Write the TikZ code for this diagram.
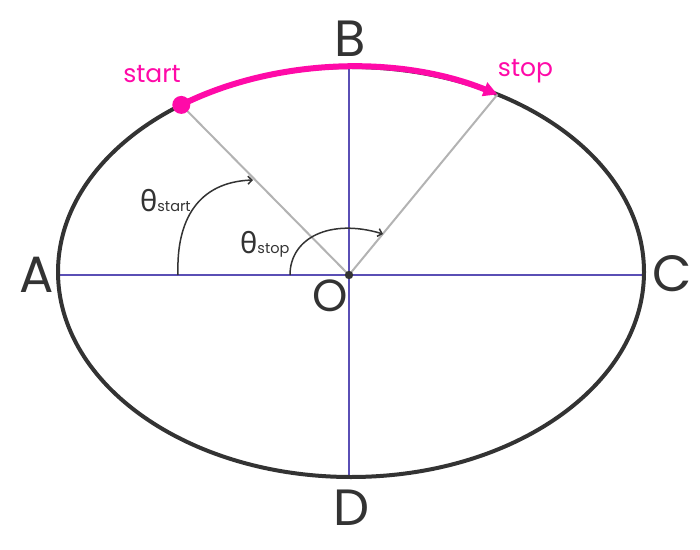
\documentclass[tikz,border=0pt]{standalone}
\usepackage{fontspec}
\setmainfont{Poppins}
\newfontfamily\grk{Noto Sans}
\usetikzlibrary{arrows.meta,calc}
\definecolor{dark}{HTML}{333333}
\definecolor{pinkc}{HTML}{FF0AA8}
\definecolor{axisc}{HTML}{5A4FB5}
\definecolor{grayc}{HTML}{B3B3B3}
\tikzset{
  ellipsestyle/.style={draw=dark,line width=4pt},
  axisline/.style={draw=axisc,line width=1.6pt},
  rayline/.style={draw=grayc,line width=2pt},
  pinkarc/.style={draw=pinkc,line width=6pt,-{Triangle[length=14pt,width=14pt]}},
  anglearc/.style={draw=dark,line width=1.5pt,-{Straight Barb[length=4pt,width=8pt]}},
  bigletter/.style={text=dark,font=\fontsize{51}{51}\selectfont,anchor=base,inner sep=0pt},
  pinklabel/.style={text=pinkc,font=\fontsize{25}{25}\selectfont,anchor=base,inner sep=0pt},
  thetalabel/.style={text=dark,anchor=base west,inner sep=0pt},
}
\newcommand{\thetasub}[1]{{\grk\fontsize{29}{29}\selectfont θ}{\fontsize{14.5}{14.5}\selectfont #1}}
\begin{document}
\begin{tikzpicture}[x=1pt,y=1pt]
\useasboundingbox (0,0) rectangle (700,549);
\coordinate (E) at (351,277);
\coordinate (O) at (349,274);
\coordinate (Ax) at (58,274);
\coordinate (Cx) at (644,274);
\coordinate (Bx) at (349,483);
\coordinate (Dx) at (349,72);
\coordinate (S) at ($(E)+(125.4:293 and 205)$);
\coordinate (T) at ($(E)+(60:293 and 205)$);
% axes
\draw[axisline] (Ax) -- (Cx);
\draw[axisline] (Bx) -- (Dx);
% ellipse
\draw[ellipsestyle] (E) ellipse [x radius=293, y radius=205];
% rays
\draw[rayline] (O) -- (S);
\draw[rayline] (O) -- (T);
% pink arc
\draw[pinkarc] (S) arc[start angle=125.4, end angle=60, x radius=293, y radius=205];
\fill[pinkc] (S) circle (9);
\fill[dark] (O) circle (4.2);
% angle arcs
\coordinate (a1s) at (178,274);
\coordinate (a1e) at (253,369);
\coordinate (a2s) at (290,274);
\coordinate (a2e) at (383,315);
\draw[anglearc] (a1s) .. controls (176,329) and (198,367) .. (a1e);
\draw[anglearc] (a2s) .. controls (290,311) and (330,331) .. (a2e);
% labels
\node[bigletter] (A) at (37,256) {A};
\node[bigletter] (B) at (350,492) {B};
\node[bigletter] (C) at (672,257) {C};
\node[bigletter] (D) at (352,24) {D};
\node[bigletter,font=\fontsize{45}{45}\selectfont] (Olab) at (330,237) {O};
\node[pinklabel] (startlab) at (152,466) {start};
\node[pinklabel] (stoplab) at (525.5,472) {stop};
\node[thetalabel] (th1) at (140,337) {\thetasub{start}};
\node[thetalabel] (th2) at (240,295) {\thetasub{stop}};
\end{tikzpicture}
\end{document}
